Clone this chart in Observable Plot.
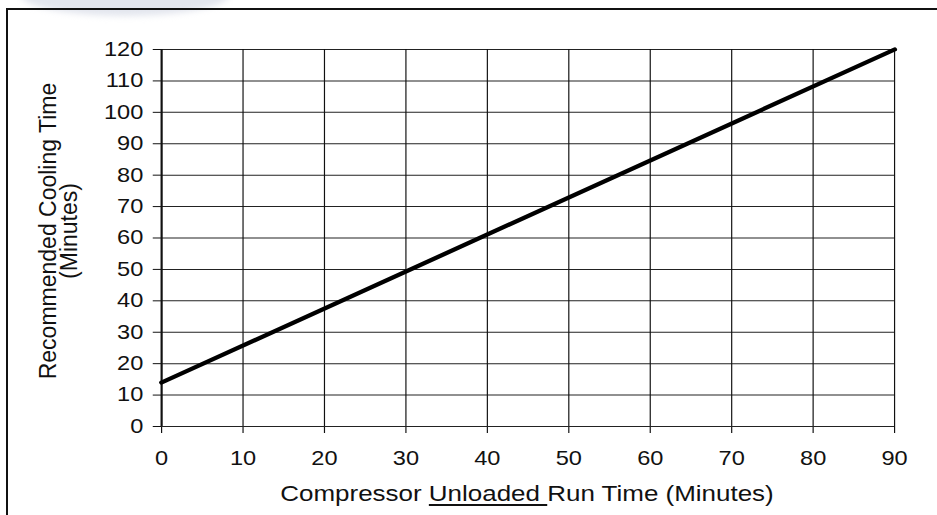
<!DOCTYPE html>
<html>
<head>
<meta charset="utf-8">
<script src="https://cdn.jsdelivr.net/npm/d3@7"></script>
<script src="https://cdn.jsdelivr.net/npm/@observablehq/plot@0.6"></script>
<style>
  html, body { margin: 0; padding: 0; background: #fff; }
  #wrap { position: relative; width: 937px; height: 515px; overflow: hidden; background: #fff; font-family: "Liberation Sans", Arial, sans-serif; color: #111; }
  #blob { position: absolute; left: 20px; top: -28px; width: 210px; height: 44px; border-radius: 50%; background: #e3e6ee; filter: blur(3px); }
  #frame { position: absolute; left: 6px; top: 8px; width: 960px; height: 540px; border: 2.5px solid #111; box-sizing: border-box; }
  #chart { position: absolute; left: 0; top: 0; }
  #chart svg { transform-origin: 0 0; }
  #xlabel { position: absolute; left: 527px; top: 494px; white-space: nowrap; font-size: 22px; transform: translate(-50%, -50%) scaleX(1.18); }
  #xlabel u { text-decoration-thickness: 2px; text-underline-offset: 3px; }
  #ylabel { position: absolute; left: 59px; top: 231px; white-space: nowrap; font-size: 23px; line-height: 21px; text-align: center; transform: translate(-50%, -50%) rotate(-90deg); }
</style>
</head>
<body>
<div id="wrap">
  <div id="blob"></div>
  <div id="frame"></div>
  <div id="chart"></div>
  <div id="xlabel">Compressor <u>Unloaded </u>Run Time (Minutes)</div>
  <div id="ylabel">Recommended Cooling Time<br>(Minutes)</div>
</div>
<script>
// Data
const runTime = [0, 90];          // Compressor unloaded run time (minutes)
const coolingTime = [14, 120];    // Recommended cooling time (minutes)
const xTicks = [0, 10, 20, 30, 40, 50, 60, 70, 80, 90];
const yTicks = [0, 10, 20, 30, 40, 50, 60, 70, 80, 90, 100, 110, 120];

const data = runTime.map((x, i) => ({x, y: coolingTime[i]}));

const S = 1.18; // horizontal stretch of the original figure
const W = 937 / S;

const chart = Plot.plot({
  width: W,
  height: 515,
  marginLeft: 161 / S,
  marginRight: W - 894 / S,
  marginTop: 49,
  marginBottom: 89,
  style: { fontFamily: "Liberation Sans, Arial, sans-serif", fontSize: "20px", color: "#111", background: "transparent", overflow: "visible" },
  x: { domain: [0, 90], ticks: xTicks, tickFormat: d => String(d), tickSize: 7, tickPadding: 17, label: null },
  y: { domain: [0, 120], ticks: yTicks, tickFormat: d => String(d), tickSize: 7, tickPadding: 8.5, label: null },
  marks: [
    Plot.ruleY(yTicks, { stroke: "#222", strokeWidth: 1 }),
    Plot.ruleX(xTicks, { stroke: "#111", strokeWidth: 1 }),
    Plot.ruleX([0], { stroke: "#111", strokeWidth: 1.8 }),
    Plot.line(data, { x: "x", y: "y", stroke: "#000", strokeWidth: 4.2 })
  ]
});
chart.style.transformOrigin = "0 0";
chart.style.transform = `scaleX(${S})`;
document.getElementById("chart").appendChild(chart);
</script>
</body>
</html>
